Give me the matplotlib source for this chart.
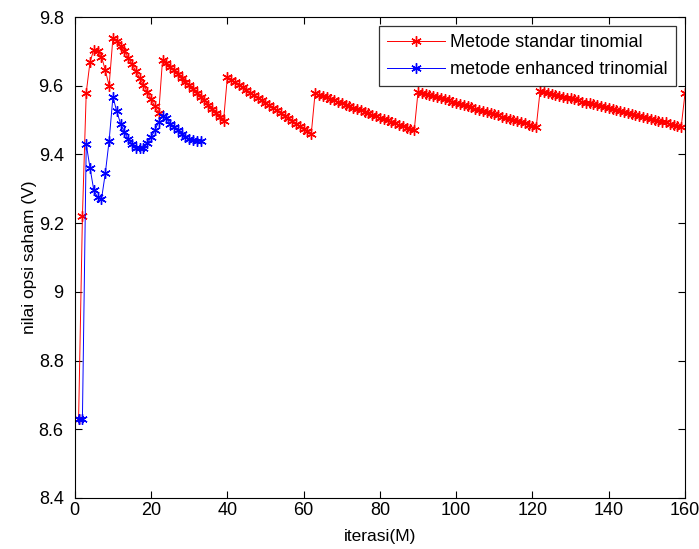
import matplotlib

matplotlib.use("Agg")
import matplotlib.pyplot as plt

# iteration index
iter_standard = list(range(1, 161))
iter_enhanced = list(range(1, 34))

# metode standar trinomial (segment by segment)
standard_values = [
    8.63, 9.22, 9.58, 9.67, 9.705, 9.70, 9.685, 9.645, 9.60,
    9.74, 9.73, 9.715, 9.70, 9.682, 9.663, 9.643, 9.623, 9.603, 9.582, 9.561, 9.540, 9.52,
    9.675, 9.665, 9.655, 9.645, 9.634, 9.623, 9.612, 9.601, 9.590, 9.579, 9.568, 9.557,
    9.545, 9.533, 9.521, 9.510, 9.498,
    9.625, 9.618, 9.610, 9.603, 9.595, 9.588, 9.580, 9.573, 9.565, 9.558, 9.550, 9.543,
    9.535, 9.528, 9.520, 9.513, 9.505, 9.498, 9.490, 9.483, 9.475, 9.468, 9.460,
    9.578, 9.574, 9.570, 9.566, 9.561, 9.557, 9.553, 9.549, 9.545, 9.541, 9.536, 9.532,
    9.528, 9.524, 9.520, 9.516, 9.511, 9.507, 9.503, 9.499, 9.495, 9.491, 9.486, 9.482,
    9.478, 9.474, 9.470,
    9.583, 9.580, 9.576, 9.573, 9.570, 9.566, 9.563, 9.560, 9.557, 9.553, 9.550, 9.547,
    9.543, 9.540, 9.537, 9.533, 9.530, 9.527, 9.524, 9.520, 9.517, 9.514, 9.510, 9.507,
    9.504, 9.500, 9.497, 9.494, 9.491, 9.487, 9.484, 9.481,
    9.585, 9.582, 9.579, 9.577, 9.574, 9.571, 9.568, 9.565, 9.563, 9.560, 9.557, 9.554,
    9.551, 9.549, 9.546, 9.543, 9.540, 9.537, 9.535, 9.532, 9.529, 9.526, 9.523, 9.521,
    9.518, 9.515, 9.512, 9.509, 9.507, 9.504, 9.501, 9.498, 9.495, 9.493, 9.490, 9.487,
    9.484, 9.481,
    9.578,
]

# metode enhanced trinomial
enhanced_values = [
    8.63, 8.63, 9.43, 9.36, 9.295, 9.275, 9.27, 9.345, 9.44, 9.568,
    9.525, 9.49, 9.465, 9.445, 9.43, 9.42, 9.418, 9.42, 9.432, 9.45, 9.47, 9.495,
    9.512, 9.505, 9.49, 9.48, 9.47, 9.46, 9.452, 9.446, 9.442, 9.44, 9.44,
]

x_ticks = [0, 20, 40, 60, 80, 100, 120, 140, 160]
y_ticks = [8.4, 8.6, 8.8, 9.0, 9.2, 9.4, 9.6, 9.8]
y_tick_labels = ["8.4", "8.6", "8.8", "9", "9.2", "9.4", "9.6", "9.8"]

plt.rcParams["font.family"] = ["Liberation Sans", "DejaVu Sans"]

fig = plt.figure(figsize=(6.99, 5.49), dpi=100)
ax = fig.add_axes([0.107, 0.093, 0.873, 0.876])

star = (6, 2, 0)
ax.plot(iter_standard, standard_values, color="#ff0000", linewidth=0.7,
        marker=star, markersize=7.5, markeredgewidth=1.0, label="Metode standar tinomial")
ax.plot(iter_enhanced, enhanced_values, color="#0000ff", linewidth=0.7,
        marker=star, markersize=7.5, markeredgewidth=1.0, label="metode enhanced trinomial")

ax.set_xlim(0, 160)
ax.set_ylim(8.4, 9.8)
ax.set_xticks(x_ticks)
ax.set_yticks(y_ticks)
ax.set_yticklabels(y_tick_labels)
ax.tick_params(direction="in", top=True, right=True, length=5, width=0.8)
ax.tick_params(axis="x", pad=3)
ax.tick_params(axis="y", pad=8)
for lab in ax.get_xticklabels() + ax.get_yticklabels():
    lab.set_family(["Liberation Sans Narrow", "Liberation Sans"])
    lab.set_fontsize(13)
for spine in ax.spines.values():
    spine.set_linewidth(0.8)

ax.set_xlabel("iterasi(M)", fontsize=12.5, labelpad=7)
ax.set_ylabel("nilai opsi saham (V)", fontsize=12.5, labelpad=1)

leg = ax.legend(loc="upper right", fontsize=13, frameon=True, fancybox=False,
                edgecolor="black", borderaxespad=0.5, handlelength=3.2,
                borderpad=0.45, labelspacing=0.55, handletextpad=0.3)
leg.get_frame().set_linewidth(0.9)

fig.savefig("out.png", dpi=100)
